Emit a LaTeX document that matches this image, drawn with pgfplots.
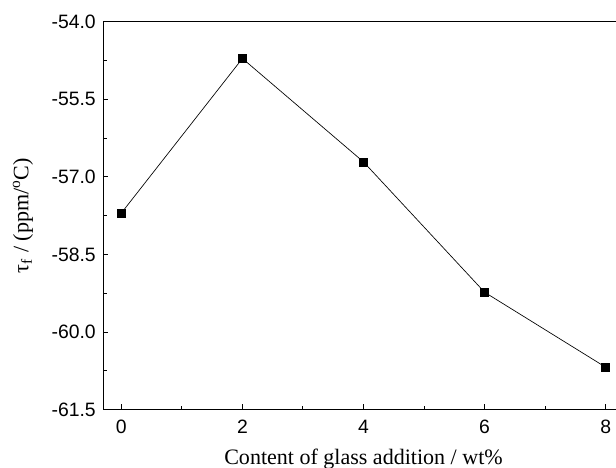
\documentclass[border=0pt]{standalone}
\usepackage{fontspec}
\setmainfont{Liberation Serif}
\newfontfamily\arial{Liberation Sans}
\usepackage{pgfplots}
\pgfplotsset{compat=1.18}

\begin{document}
\begin{tikzpicture}
  \begin{axis}[
      name=ax,
      scale only axis,
      width=390pt, height=290.5pt,
      xmin=-0.3, xmax=8.3,
      ymin=-61.5, ymax=-54.0,
      xtick={0,2,4,6,8},
      minor x tick num=1,
      ytick={-61.5,-60,-58.5,-57,-55.5,-54},
      minor y tick num=1,
      xtick pos=bottom, ytick pos=left,
      tick align=inside,
      major tick length=4pt,
      minor tick length=3pt,
      axis line style={line width=0.8pt},
      every tick/.style={line width=0.7pt, black},
      tick label style={font=\arial\fontsize{14.5}{16}\selectfont},
      /pgf/number format/assume math mode=true,
      yticklabel style={/pgf/number format/fixed,
        /pgf/number format/fixed zerofill,
        /pgf/number format/precision=1, xshift=-2pt},
      xticklabel style={yshift=-4pt},
      label style={font=\fontsize{16.5}{18}\selectfont},
      xlabel={Content of glass addition / wt\%},
      xlabel style={at={(axis description cs:0.5,-0.128)}, anchor=center},
      ylabel={τ\textsubscript{f} / (ppm/\textsuperscript{o}C)},
      ylabel style={at={(axis description cs:-0.154,0.5)}, anchor=center},
    ]
    \addplot[black, line width=0.5pt, mark=square*, mark size=3pt,
      mark options={solid, fill=black}]
      coordinates {
        (0,-57.70) (2,-54.71) (4,-56.71) (6,-59.23) (8,-60.68)
      };
    \coordinate (tr) at (axis cs:8.17,-54.0);
  \end{axis}
  \pgfresetboundingbox
  \path[use as bounding box]
    ([xshift=-77.25pt,yshift=-43.5pt]ax.south west)
    rectangle ([yshift=16.3pt]tr);
\end{tikzpicture}
\end{document}
